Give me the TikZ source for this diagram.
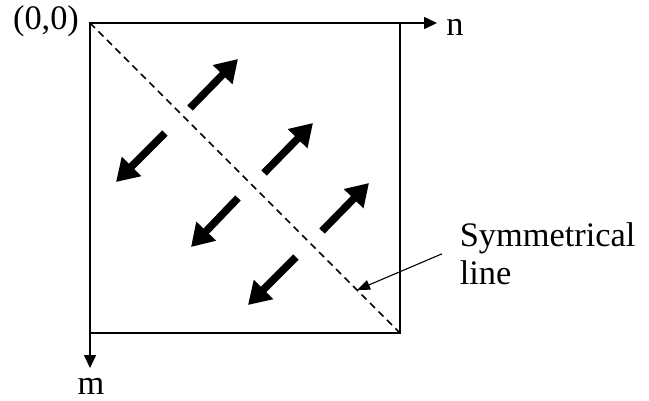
\documentclass[tikz,border=0pt]{standalone}
\usepackage{fontspec}
\setmainfont{Liberation Serif}
\usetikzlibrary{arrows.meta}

\begin{document}
\begin{tikzpicture}[>=Triangle,x=1bp,y=-1bp,line width=1.6bp,
    every node/.style={font=\fontsize{34.5}{38}\selectfont}]
  \useasboundingbox (0,0) rectangle (649,400);
  \coordinate (o) at (90,23);
  \coordinate (c) at (400,333);
  \coordinate (nend) at (437,23);
  \coordinate (mend) at (90,368);
  \coordinate (hit) at (357,290);
  \draw (o) rectangle (c);
  \draw[-{Triangle[length=13bp,width=12bp]}] (o) -- (nend);
  \draw[-{Triangle[length=13bp,width=12bp]}] (o) -- (mend);
  \draw[dash pattern=on 7bp off 5bp] (o) -- (c);
  \foreach \ax/\ay/\bx/\by in {190/108/238/59, 165/133/116/182,
      264/173/313/123, 238/198/191/247, 322/231/369/183, 296/257/248/305} {
    \draw[line width=7.5bp,-{Triangle[length=22bp,width=26bp]}]
      (\ax,\ay) -- (\bx,\by);
  }
  \node (orig) at (46,21) {(0,0)};
  \node (n) at (455,27) {n};
  \node (m) at (91,386) {m};
  \node[anchor=north west,align=left,inner sep=0pt] (lbl) at (459,222)
    {Symmetrical\\line};
  \draw[line width=1.1bp,-{Triangle[length=13bp,width=10bp]}]
    ([xshift=-17bp]lbl.west) -- (hit);
\end{tikzpicture}
\end{document}
